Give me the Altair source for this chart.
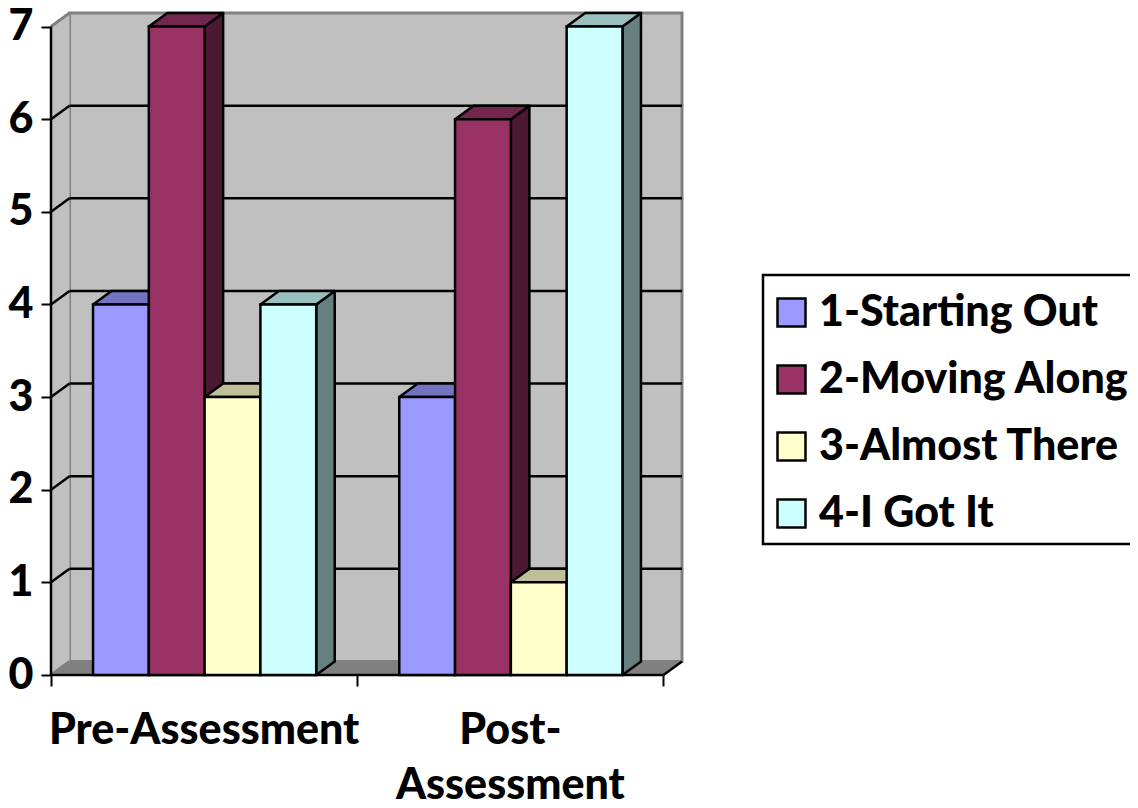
import altair as alt
import pandas as pd

groups = ["Pre-Assessment", "Post-\nAssessment"]
series = ["1-Starting Out", "2-Moving Along", "3-Almost There", "4-I Got It"]
pre_values = [4, 7, 3, 4]
post_values = [3, 6, 1, 7]
colors = ["#9999FF", "#993366", "#FFFFCC", "#CCFFFF"]
top_colors = ["#7373BF", "#73264D", "#BFBF99", "#99BFBF"]
side_colors = ["#4C4C80", "#4C1933", "#80806A", "#668080"]
y_ticks = [0, 1, 2, 3, 4, 5, 6, 7]
x_ticks = [0, 1, 2]
grid_levels = [1, 2, 3, 4, 5, 6]

DX = 18.5 / 306
DY = 13.5 / 92.57
GAP = 42 / 306
BAR = 55.75 / 306
FONT = "Lato"
FS = 43
WEIGHT = 900

xs = alt.Scale(domain=[0, 2 + DX], nice=False, zero=False)
ys = alt.Scale(domain=[0, 7 + DY], nice=False, zero=False)
axes_y = alt.Axis(values=y_ticks, grid=False, domain=False, title=None, format="d", tickSize=10, tickWidth=2,
                  tickColor="black", labelFont=FONT, labelFontWeight=WEIGHT, labelFontSize=FS, labelColor="black",
                  labelPadding=8)
axes_x = alt.Axis(values=x_ticks, grid=False, domain=False, title=None, labels=False, tickSize=11, tickWidth=2,
                  tickColor="black")
X = alt.X("x:Q", scale=xs, axis=axes_x)
Y = alt.Y("y:Q", scale=ys, axis=axes_y, stack=None)
Y2 = alt.Y2("y2:Q")
X2 = alt.X2("x2:Q")

front, top, side = [], [], []
for g, vals in enumerate([pre_values, post_values]):
    for i, v in enumerate(vals):
        l = g + GAP + i * BAR
        r = l + BAR
        key = f"{g}-{i}"
        front.append(dict(x=l, x2=r, y=0, y2=v, series=series[i]))
        for px, lo, hi in [(l, v, v), (l + DX, v, v + DY), (r, v, v + DY), (r + DX, v + DY, v + DY)]:
            top.append(dict(x=px, y=lo, y2=hi, bar=key, fill=top_colors[i]))
        for px, lo, hi in [(r, 0, v), (r + DX, DY, v + DY)]:
            side.append(dict(x=px, y=lo, y2=hi, bar=key, fill=side_colors[i]))

left_wall = pd.DataFrame([dict(x=0, y=0, y2=7), dict(x=DX, y=DY, y2=7 + DY)])
floor = pd.DataFrame([dict(x=0, y=0, y2=0), dict(x=DX, y=0, y2=DY), dict(x=2, y=0, y2=DY), dict(x=2 + DX, y=DY, y2=DY)])
back = pd.DataFrame([dict(x=DX, x2=2 + DX, y=DY, y2=7 + DY)])
grid = pd.DataFrame([dict(x=DX, x2=2 + DX, y=v + DY) for v in grid_levels])
diag = pd.DataFrame([r for v in grid_levels for r in (dict(x=0, y=v, k=v), dict(x=DX, y=v + DY, k=v))])
diag_gray = pd.DataFrame([r for v in [0, 7] for r in (dict(x=0, y=v, k=v), dict(x=DX, y=v + DY, k=v))])
diag_right = pd.DataFrame([dict(x=2, y=0), dict(x=2 + DX, y=DY)])
labels = pd.DataFrame(dict(x=[0.5, 1.5], y=[0, 0], label=groups))

layers = [
    alt.Chart(back).mark_rect(fill="#C0C0C0", stroke="#808080", strokeWidth=3).encode(x=X, x2=X2, y=Y, y2=Y2),
    alt.Chart(left_wall).mark_area(fill="#C0C0C0", opacity=1).encode(x=X, y=Y, y2=Y2),
    alt.Chart(floor).mark_area(fill="#808080", opacity=1).encode(x=X, y=Y, y2=Y2),
    alt.Chart(grid).mark_rule(color="black", strokeWidth=2.5).encode(x=X, x2=X2, y=Y),
    alt.Chart(diag).mark_line(color="black", strokeWidth=2.5).encode(x=X, y=Y, detail="k:N"),
    alt.Chart(diag_gray).mark_line(color="#808080", strokeWidth=3).encode(x=X, y=Y, detail="k:N"),
    alt.Chart(diag_right).mark_line(color="black", strokeWidth=2.5).encode(x=X, y=Y),
    alt.Chart(pd.DataFrame(dict(x=[0], y=[0], y2=[7]))).mark_rule(color="black", strokeWidth=2.5).encode(x=X, y=Y, y2=Y2),
    alt.Chart(pd.DataFrame(dict(x=[0], x2=[2], y=[0]))).mark_rule(color="black", strokeWidth=2.5).encode(x=X, x2=X2, y=Y),
    alt.Chart(pd.DataFrame(side)).mark_area(stroke="black", strokeWidth=2.5, opacity=1, strokeJoin="round").encode(
        x=X, y=Y, y2=Y2, detail="bar:N", fill=alt.Fill("fill:N", scale=None)),
    alt.Chart(pd.DataFrame(top)).mark_area(stroke="black", strokeWidth=2.5, opacity=1, strokeJoin="round").encode(
        x=X, y=Y, y2=Y2, detail="bar:N", fill=alt.Fill("fill:N", scale=None)),
    alt.Chart(pd.DataFrame(front)).mark_rect(stroke="black", strokeWidth=2.5, opacity=1).encode(
        x=X, x2=X2, y=Y, y2=Y2,
        color=alt.Color("series:N", sort=series, scale=alt.Scale(domain=series, range=colors),
                        legend=alt.Legend(title=" ", titleFontSize=8, titlePadding=0, orient="none",
                                          legendX=712, legendY=262, padding=8,
                                          strokeColor="black", symbolType="square", symbolSize=784,
                                          symbolStrokeColor="black", symbolStrokeWidth=2.5, symbolOpacity=1,
                                          symbolOffset=-1,
                                          labelFont=FONT, labelFontWeight=WEIGHT, labelFontSize=FS,
                                          labelColor="black", labelLimit=400, rowPadding=23, labelOffset=6))),
    alt.Chart(labels).mark_text(font=FONT, fontWeight=WEIGHT, fontSize=FS, color="black", baseline="top",
                                align="center", dy=35, lineBreak="\n", lineHeight=55).encode(
        x=X, y=Y, text="label:N"),
]

chart = alt.layer(*layers).properties(
    width=631, height=662, autosize="none",
    padding={"left": 43, "top": 5, "right": 448, "bottom": 125},
    background="white",
).configure_view(stroke=None).configure_legend(strokeWidth=2.5)

chart.save("out.html", embed_options={"renderer": "svg", "actions": False})
